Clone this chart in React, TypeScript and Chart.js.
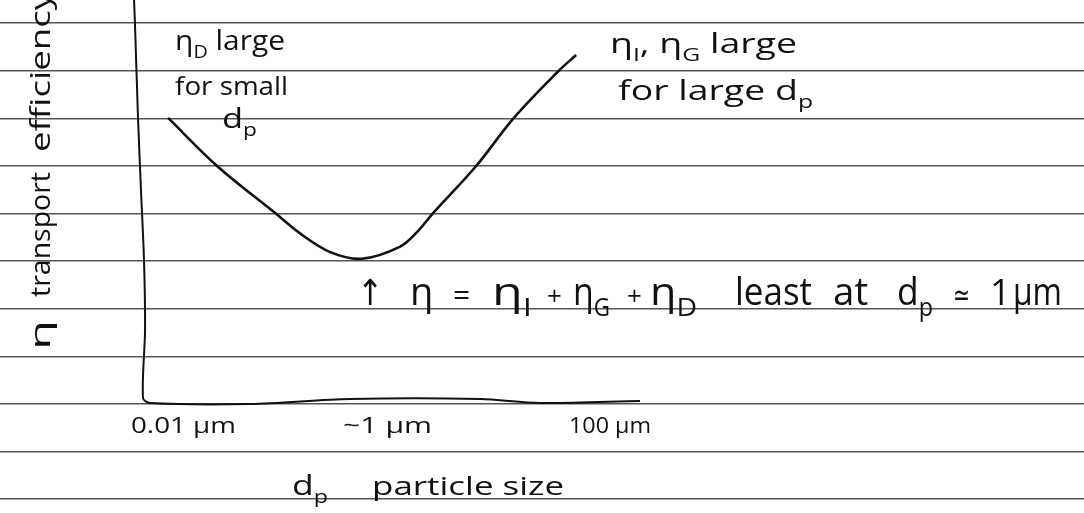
import React, { useEffect, useRef } from 'react';
import { Chart, registerables } from 'chart.js';

Chart.register(...registerables);

// x: log10(particle diameter / µm), y: transport efficiency (arbitrary units, one ruled line per unit)
const curveLogDp = [-1.95, -1.47, -0.9, -0.66, -0.36, -0.05, 0.32, 0.49, 0.64, 1.07, 1.44, 1.88, 2.05];
const curveEta = [6.01, 5.0, 4.01, 3.59, 3.19, 3.05, 3.3, 3.61, 3.99, 5.0, 6.01, 7.0, 7.33];

// hand-drawn axes (vertical stroke then horizontal stroke)
const axisLogDp = [-2.284, -2.275, -2.245, -2.216, -2.186, -2.176, -2.196, -2.127, -1.147, -0.167, 1.108, 1.696, 2.676];
const axisEta = [8.487, 8.004, 6.008, 4.496, 3.004, 1.555, 0.126, 0.021, 0.0, 0.105, 0.105, 0.021, 0.063];

const tickLabels = ['0.01 μm', '~1 μm', '100 μm'];
const xTitle = ['d', 'p', 'particle size'];
const yTitle = ['η', 'transport', 'efficiency'];

const X_MIN = -3.598;
const X_MAX = 7.029;
const Y_MIN = -2.29;
const Y_MAX = 8.487;

const FONT = '"Open Sans", "DejaVu Sans", sans-serif';

type Seg = { t: string; sub?: boolean };
type Note = { x: number; y: number; size: number; w?: number; rot?: boolean; segs: Seg[] };

const notes: Note[] = [
  // upper-left remark
  { x: -1.882, y: 7.437, size: 28, w: 110, segs: [{ t: 'η' }, { t: 'D', sub: true }, { t: ' large' }] },
  { x: -1.882, y: 6.492, size: 26, w: 113, segs: [{ t: 'for small' }] },
  { x: -1.422, y: 5.798, size: 28, w: 35, segs: [{ t: 'd' }, { t: 'p', sub: true }] },
  // upper-right remark
  { x: 2.382, y: 7.374, size: 28, w: 187, segs: [{ t: 'η' }, { t: 'I', sub: true }, { t: ', η' }, { t: 'G', sub: true }, { t: ' large' }] },
  { x: 2.461, y: 6.387, size: 27, w: 195, segs: [{ t: 'for large d' }, { t: 'p', sub: true }] },
  // minimum remark
  { x: -0.098, y: 2.08, size: 36, w: 26, segs: [{ t: '↑' }] },
  { x: 0.422, y: 2.08, size: 38, segs: [{ t: 'η' }] },
  { x: 0.843, y: 2.08, size: 30, segs: [{ t: '=' }] },
  { x: 1.225, y: 2.08, size: 38, w: 40, segs: [{ t: 'η' }, { t: 'I', sub: true }] },
  { x: 1.765, y: 2.08, size: 26, segs: [{ t: '+' }] },
  { x: 2.02, y: 2.08, size: 38, w: 37, segs: [{ t: 'η' }, { t: 'G', sub: true }] },
  { x: 2.549, y: 2.08, size: 26, segs: [{ t: '+' }] },
  { x: 2.775, y: 2.08, size: 38, w: 47, segs: [{ t: 'η' }, { t: 'D', sub: true }] },
  { x: 3.608, y: 2.08, size: 38, w: 77, segs: [{ t: 'least' }] },
  { x: 4.569, y: 2.08, size: 38, w: 35, segs: [{ t: 'at' }] },
  { x: 5.196, y: 2.08, size: 38, w: 36, segs: [{ t: 'd' }, { t: 'p', sub: true }] },
  { x: 5.745, y: 2.08, size: 30, w: 17, segs: [{ t: '≃' }] },
  { x: 6.108, y: 2.08, size: 36, segs: [{ t: '1' }] },
  { x: 6.333, y: 2.08, size: 38, w: 49, segs: [{ t: 'μm' }] },
  // x tick labels
  { x: -2.314, y: -0.609, size: 22, w: 105, segs: [{ t: tickLabels[0] }] },
  { x: -0.235, y: -0.609, size: 22, w: 89, segs: [{ t: tickLabels[1] }] },
  { x: 1.98, y: -0.609, size: 22, w: 82, segs: [{ t: tickLabels[2] }] },
  // x title
  { x: -0.735, y: -1.912, size: 28, w: 36, segs: [{ t: xTitle[0] }, { t: xTitle[1], sub: true }] },
  { x: 0.049, y: -1.912, size: 26, w: 192, segs: [{ t: xTitle[2] }] },
  // y title (rotated, reads upward)
  { x: -3.108, y: 1.134, size: 27, w: 30, rot: true, segs: [{ t: yTitle[0] }] },
  { x: -3.108, y: 2.248, size: 27, w: 125, rot: true, segs: [{ t: yTitle[1] }] },
  { x: -3.108, y: 5.294, size: 27, w: 160, rot: true, segs: [{ t: yTitle[2] }] },
];

const notePlugin = {
  id: 'notes',
  afterDatasetsDraw(chart: any) {
    const { ctx, scales } = chart;
    const xs = scales.x;
    const ys = scales.y;
    ctx.save();
    ctx.fillStyle = '#111';
    ctx.textBaseline = 'alphabetic';
    ctx.textAlign = 'left';
    for (const n of notes) {
      const px = xs.getPixelForValue(n.x);
      const py = ys.getPixelForValue(n.y);
      const subSize = n.size * 0.66;
      let nat = 0;
      for (const s of n.segs) {
        ctx.font = `${s.sub ? subSize : n.size}px ${FONT}`;
        nat += ctx.measureText(s.t).width;
      }
      ctx.save();
      ctx.translate(px, py);
      if (n.rot) ctx.rotate(-Math.PI / 2);
      if (n.w && nat > 0) ctx.scale(n.w / nat, 1);
      let cx = 0;
      for (const s of n.segs) {
        const sz = s.sub ? subSize : n.size;
        ctx.font = `${sz}px ${FONT}`;
        ctx.fillText(s.t, cx, s.sub ? n.size * 0.3 : 0);
        cx += ctx.measureText(s.t).width;
      }
      ctx.restore();
    }
    ctx.restore();
  },
};

export default function App() {
  const ref = useRef<HTMLCanvasElement>(null);

  useEffect(() => {
    if (!ref.current) return;
    const chart = new Chart(ref.current, {
      type: 'scatter',
      data: {
        datasets: [
          {
            label: 'axes',
            data: axisLogDp.map((v, i) => ({ x: v, y: axisEta[i] })),
            showLine: true,
            borderColor: '#111',
            borderWidth: 2,
            pointRadius: 0,
            tension: 0.3,
          },
          {
            label: 'η',
            data: curveLogDp.map((v, i) => ({ x: v, y: curveEta[i] })),
            showLine: true,
            borderColor: '#111',
            borderWidth: 2.6,
            pointRadius: 0,
            tension: 0.35,
          },
        ],
      },
      options: {
        animation: false,
        responsive: false,
        maintainAspectRatio: false,
        layout: { padding: 0 },
        plugins: { legend: { display: false }, tooltip: { enabled: false }, title: { display: false } },
        scales: {
          x: { type: 'linear', min: X_MIN, max: X_MAX, display: false },
          y: {
            type: 'linear',
            min: Y_MIN,
            max: Y_MAX,
            display: true,
            ticks: { display: false, stepSize: 1, includeBounds: false },
            grid: { color: '#555', lineWidth: 1.5, drawTicks: false },
            border: { display: false },
          },
        },
      },
      plugins: [notePlugin],
    });
    return () => chart.destroy();
  }, []);

  return (
    <div style={{ position: 'fixed', left: 0, top: 0, width: 1084, height: 513, background: '#fff' }}>
      <canvas ref={ref} width={1084} height={513} style={{ display: 'block' }} />
    </div>
  );
}
